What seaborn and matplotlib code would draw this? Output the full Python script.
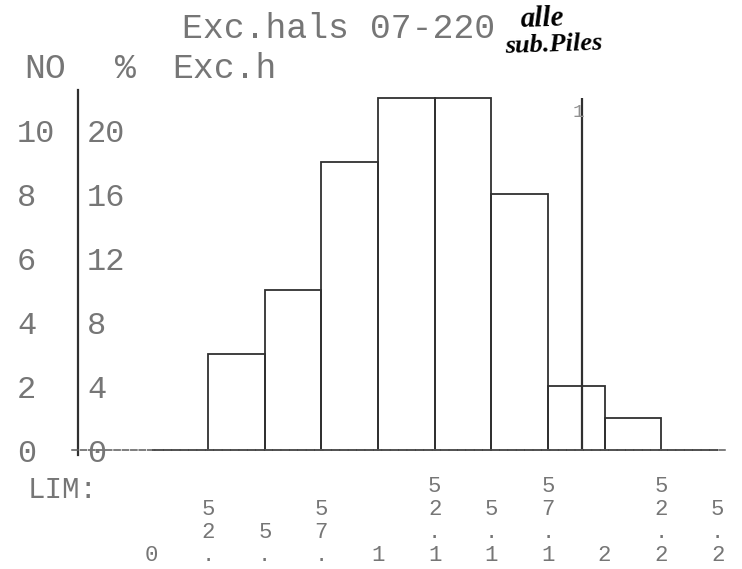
import matplotlib
matplotlib.use("Agg")
import matplotlib.pyplot as plt
import seaborn as sns
import numpy as np

# ---- data ----
lim_edges = [0.0, 0.25, 0.5, 0.75, 1.0, 1.25, 1.5, 1.75, 2.0, 2.25, 2.5]
lim_labels = ["0", ".25", ".5", ".75", "1", "1.25", "1.5", "1.75", "2", "2.25", "2.5"]
counts = [0, 3, 5, 9, 11, 11, 8, 2, 1, 0]
count_ticks = [0, 2, 4, 6, 8, 10]
pct_ticks = ["0", "4", "8", "12", "16", "20"]
limit_line = 1.9
title = "Exc.hals 07-220"

sns.set_style("white")
plt.rcParams["font.family"] = ["Liberation Mono", "DejaVu Sans Mono"]

TXT = "#767676"
LINE = "#303030"

fig = plt.figure(figsize=(7.42, 5.69), dpi=100)
W, H = 742.0, 569.0
x0px, sx = 151.5, 226.5   # px of value 0, px per unit
y0px, sy = 450.0, 32.0    # px of count 0, px per count
xlim = (-0.35, 2.53)
ylim = (-0.15, 11.25)
left = (x0px + xlim[0] * sx) / W
width = (xlim[1] - xlim[0]) * sx / W
bottom = (H - (y0px - ylim[0] * sy)) / H
height = (ylim[1] - ylim[0]) * sy / H
ax = fig.add_axes([left, bottom, width, height])

centers = [(a + b) / 2 for a, b in zip(lim_edges[:-1], lim_edges[1:])]
sns.histplot(x=centers, weights=counts, bins=lim_edges, fill=False,
             element="bars", color=LINE, linewidth=1.3, ax=ax)

ax.vlines(limit_line, 0, max(counts), color=LINE, linewidth=1.6)
ax.text(limit_line - 0.015, max(counts) - 0.2, "1", ha="center", va="top",
        fontsize=14, color="#909090")

ax.set_xlim(*xlim)
ax.set_ylim(*ylim)
ax.set_xlabel("")
ax.set_ylabel("")
for s in ["top", "right"]:
    ax.spines[s].set_visible(False)
ax.spines["left"].set_position(("data", -0.3245))
ax.spines["bottom"].set_position(("data", 0))
ax.spines["left"].set_color(LINE)
ax.spines["bottom"].set_color("#5a5a5a")
ax.spines["left"].set_linewidth(1.6)
ax.spines["bottom"].set_linewidth(1.1)
ax.spines["bottom"].set_linestyle((0, (4, 1.5)))

ax.set_xticks([-0.25] + lim_edges)
ax.set_xticklabels([])
ax.set_yticks(count_ticks)
ax.set_yticklabels([])
ax.tick_params(axis="x", direction="inout", length=9, width=1.1, color=LINE)
ax.tick_params(axis="y", direction="inout", length=9, width=1.2, color=LINE)

# y labels: counts (left) and percent (right of axis)
for c, p in zip(count_ticks, pct_ticks):
    ax.text((17 - x0px) / sx, c, str(c), ha="left", va="center_baseline",
            fontsize=23, color=TXT, clip_on=False)
    ax.text((87 - x0px) / sx, c, p, ha="left", va="center_baseline",
            fontsize=23, color=TXT, clip_on=False)

# x limit labels, written vertically, read bottom-up
for v, lbl in zip(lim_edges, lim_labels):
    ax.text(v, (y0px - 561) / sy, "\n".join(reversed(lbl)), ha="center",
            va="baseline", fontsize=16, linespacing=1.13, color=TXT,
            clip_on=False)

fig.text(28 / W, 1 - 498 / H, "LIM:", fontsize=21, color=TXT)

# header texts
fig.text(182 / W, 1 - 38 / H, title, fontsize=25, color=TXT)
fig.text(24 / W, 1 - 78 / H, "NO", fontsize=25, color=TXT)
fig.text(115 / W, 1 - 78 / H, "%", fontsize=25, color=TXT)
fig.text(172 / W, 1 - 78 / H, "Exc.h", fontsize=25, color=TXT)

# handwritten note
fig.text(520 / W, 1 - 27 / H, "alle", fontsize=21, color="black",
         family="Liberation Serif", style="italic", weight="bold", rotation=2)
fig.text(505 / W, 1 - 53 / H, "sub.Piles", fontsize=19, color="black",
         family="Liberation Serif", style="italic", weight="bold", rotation=2)

fig.savefig("out.png", dpi=100, facecolor="white")
